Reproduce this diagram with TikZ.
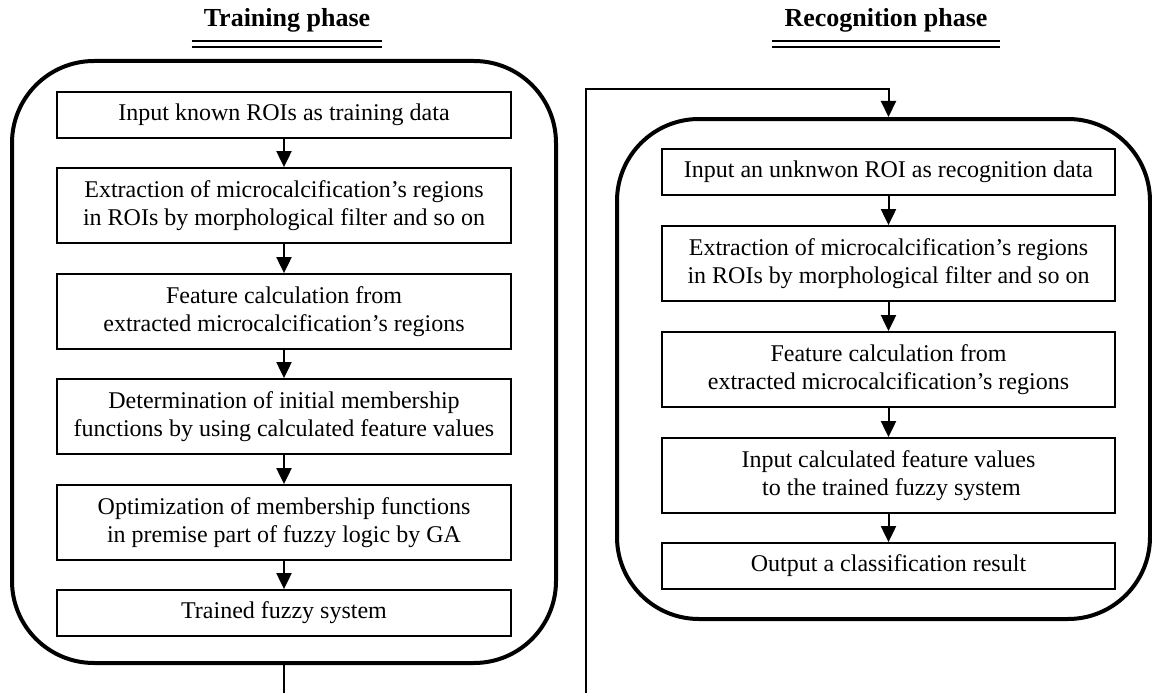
\documentclass[tikz,border=0pt]{standalone}
\usepackage{fontspec}
\setmainfont{Liberation Serif}
\usetikzlibrary{arrows.meta,calc}
\begin{document}
\begin{tikzpicture}[x=1pt,y=-1pt,
  stepbox/.style={draw, line width=1.8pt, minimum width=454pt, inner sep=0pt,
    align=center, font=\fontsize{24}{28}\selectfont},
  phasebox/.style={draw, line width=4pt, rounded corners=82pt, inner sep=0pt},
  flow/.style={line width=2pt, -{Triangle[length=16pt,width=15pt]}},
  phasetitle/.style={font=\fontsize{26}{30}\selectfont\bfseries, anchor=base, inner sep=0pt},
  rule/.style={line width=2.5pt}]
\useasboundingbox (0,0) rectangle (1152,693);

% phase titles with double rules
\node[phasetitle] (t1) at (287,27) {Training phase};
\node[phasetitle] (t2) at (886,27) {Recognition phase};
\foreach \t in {t1,t2}{
  \draw[rule] ($(\t.base west)+(-12,14)$) -- ($(\t.base east)+(12,14)$);
  \draw[rule] ($(\t.base west)+(-12,20)$) -- ($(\t.base east)+(12,20)$);
}

% phase containers
\node[phasebox, minimum width=544pt, minimum height=602pt] (L) at (284,362) {};
\node[phasebox, minimum width=533pt, minimum height=500pt] (R) at (883.5,369) {};

% training phase steps
\node[stepbox, minimum height=46pt] (l1) at (284,115) {Input known ROIs as training data};
\node[stepbox, minimum height=75pt] (l2) at (284,205.5) {Extraction of microcalcification’s regions\\in ROIs by morphological filter and so on};
\node[stepbox, minimum height=75pt] (l3) at (284,311.5) {Feature calculation from\\extracted microcalcification’s regions};
\node[stepbox, minimum height=75pt] (l4) at (284,416.5) {Determination of initial membership\\functions by using calculated feature values};
\node[stepbox, minimum height=75pt] (l5) at (284,522.5) {Optimization of membership functions\\in premise part of fuzzy logic by GA};
\node[stepbox, minimum height=46pt] (l6) at (284,613) {Trained fuzzy system};

% recognition phase steps
\node[stepbox, minimum width=453pt, minimum height=46pt] (r1) at (888.5,172) {Input an unknwon ROI as recognition data};
\node[stepbox, minimum width=453pt, minimum height=75pt] (r2) at (888.5,263.5) {Extraction of microcalcification’s regions\\in ROIs by morphological filter and so on};
\node[stepbox, minimum width=453pt, minimum height=75pt] (r3) at (888.5,369.5) {Feature calculation from\\extracted microcalcification’s regions};
\node[stepbox, minimum width=453pt, minimum height=75pt] (r4) at (888.5,475.5) {Input calculated feature values\\\ to the trained fuzzy system};
\node[stepbox, minimum width=453pt, minimum height=46pt] (r5) at (888.5,566) {Output a classification result};

% step arrows
\foreach \a/\b in {l1/l2,l2/l3,l3/l4,l4/l5,l5/l6,r1/r2,r2/r3,r3/r4,r4/r5}
  \draw[flow] (\a) -- (\b);

% hand-over from training to recognition
\coordinate (low) at (284,723);
\coordinate (turn) at (586,89);
\begin{scope}
  \clip (0,0) rectangle (1152,693);
  \draw[flow] (L.south) -- (low) -| (turn) -| (R.north -| r1.north);
\end{scope}
\end{tikzpicture}
\end{document}
